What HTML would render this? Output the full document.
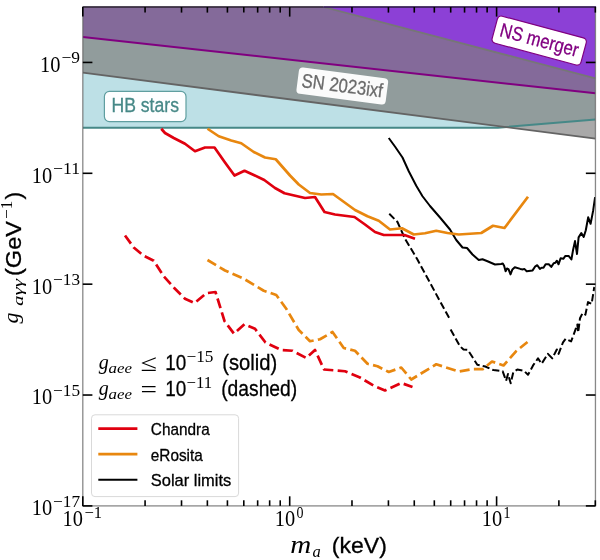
<!DOCTYPE html>
<html><head><meta charset="utf-8"><title>plot</title>
<style>html,body{margin:0;padding:0;background:#fff;}body{width:600px;height:560px;overflow:hidden;font-family:"Liberation Sans",sans-serif;}svg{display:block;will-change:transform;}</style>
</head><body>
<svg width="600" height="560" viewBox="0 0 600 560">
<rect width="600" height="560" fill="#fff"/>
<defs><clipPath id="cp"><rect x="82.80" y="7.00" width="512.65" height="498.90"/></clipPath></defs>
<g clip-path="url(#cp)">
<polygon fill="#bde0e6" points="82.80,72.70 505.30,127.10 498.00,127.70 82.80,127.80"/>
<polygon fill="#919c9c" points="82.80,37.10 595.45,93.30 595.45,119.50 505.30,127.10 82.80,72.70"/>
<polygon fill="#a9a9a9" points="505.30,127.10 595.45,119.50 595.45,138.70"/>
<polygon fill="#846a9a" points="82.80,7.00 323.50,7.00 595.45,78.40 595.45,93.30 82.80,37.10"/>
<polygon fill="#8c40d6" points="323.50,7.00 595.45,7.00 595.45,78.40"/>
<polyline fill="none" stroke="#468887" stroke-width="2.0" points="82.80,127.80 498.00,127.70 595.45,119.50"/>
<polyline fill="none" stroke="#646464" stroke-width="1.8" points="82.80,72.70 595.45,138.70"/>
<polyline fill="none" stroke="#800080" stroke-width="2.0" points="82.80,37.10 595.45,93.30"/>
<polyline fill="none" stroke="#767676" stroke-width="1.8" points="323.50,7.00 595.45,78.40"/>
<polyline fill="none" stroke="#000" stroke-width="2.0" stroke-linejoin="round" points="388.75,138.00 395.30,147.00 402.50,157.50 408.75,171.25 416.25,185.75 422.50,196.25 430.00,206.00 440.00,217.50 450.00,229.50 456.25,240.00 462.50,247.50 467.00,248.00 472.50,254.50 478.75,260.00 482.50,259.25 487.50,261.25 495.00,264.50 501.00,264.00 502.80,263.60 504.10,265.80 505.60,271.30 507.00,268.50 508.50,269.10 510.50,274.40 512.40,269.40 514.80,267.20 520.30,268.90 523.00,269.40 524.30,268.90 526.70,271.30 532.60,270.40 535.00,266.70 537.30,265.20 539.90,268.90 541.60,267.70 543.50,267.70 545.60,264.30 548.80,264.30 551.25,266.90 553.70,263.20 555.30,262.80 556.90,260.70 558.50,264.30 560.60,258.30 563.30,258.80 565.40,255.90 568.60,255.90 571.40,259.50 573.00,250.30 575.00,241.10 577.00,254.00 578.60,237.40 581.30,233.10 583.70,237.00 585.80,230.20 588.20,217.30 590.60,223.80 593.10,210.90 595.10,197.20"/>
<polyline fill="none" stroke="#000" stroke-width="2.0" stroke-linejoin="round" stroke-dasharray="7.2 3.1" points="389.25,213.75 397.50,222.00 405.00,238.75 417.00,258.75 438.75,298.90 450.00,319.40"/>
<polyline fill="none" stroke="#000" stroke-width="2.0" stroke-linejoin="round" stroke-dasharray="7.2 3.1" points="450.60,329.40 460.00,346.25 463.50,349.50 467.80,349.90 477.30,364.70 485.30,366.50 493.30,370.00 502.70,371.30 506.10,380.70 508.00,374.00 510.70,383.30 513.30,372.10 517.30,369.50 524.00,370.80 528.00,374.80 533.60,364.60 538.00,358.40 541.60,363.75 547.90,353.90 552.30,358.40 556.80,349.50 558.60,353.90 563.00,342.30 565.70,338.75 571.10,341.40 573.75,334.30 577.30,324.50 578.20,332.50 580.00,318.20 582.70,312.90 585.40,314.60 588.00,302.10 591.60,303.90 594.30,287.00"/>
<polyline fill="none" stroke="#e0000f" stroke-width="2.7" stroke-linejoin="round" points="161.25,128.75 165.00,133.00 173.75,138.00 185.00,143.75 195.00,151.25 205.00,147.50 214.50,147.50 225.00,162.50 234.50,175.50 244.50,170.75 253.75,175.00 264.25,180.00 275.00,188.00 284.50,193.25 305.00,198.00 315.00,197.00 324.50,212.00 335.00,214.50 354.50,217.00 365.00,224.50 375.00,232.00 383.75,235.00 404.50,235.00 415.00,238.75"/>
<polyline fill="none" stroke="#e0000f" stroke-width="2.7" stroke-linejoin="round" stroke-dasharray="10.1 4.37" points="125.00,235.50 133.75,247.50 143.75,255.75 153.75,260.75 163.75,276.25 175.00,288.75 185.00,298.75 194.50,303.00 206.25,293.25 215.50,292.00 224.50,321.00 234.00,333.75 244.50,324.25 255.00,328.75 265.50,342.50 281.25,350.00 292.50,350.75 306.25,358.00 315.00,350.00 324.00,369.50 345.00,371.25 360.00,377.50 373.75,385.75 385.00,390.50 401.25,383.00 412.50,387.00"/>
<polyline fill="none" stroke="#e8870f" stroke-width="2.7" stroke-linejoin="round" points="207.50,128.75 218.75,136.25 231.25,140.50 241.25,143.25 253.75,152.00 265.00,157.50 275.75,159.25 290.00,175.50 298.75,184.50 310.00,193.00 321.25,194.50 333.00,194.00 355.00,210.00 367.50,216.25 378.75,220.75 390.00,229.50 402.00,228.25 413.75,234.50 425.00,233.25 436.25,230.75 447.50,233.00 458.75,234.50 481.25,233.00 493.00,225.75 504.50,228.00 528.00,196.75"/>
<polyline fill="none" stroke="#e8870f" stroke-width="2.7" stroke-linejoin="round" stroke-dasharray="10 4.3" points="207.50,260.00 225.00,270.50 243.75,278.75 263.75,290.75 276.25,295.00 286.25,308.75 298.75,330.00 310.00,341.25 320.00,339.25 332.50,332.00 343.75,348.00 355.00,350.75 367.50,363.75 377.50,366.25 388.75,372.00 401.25,367.50 411.25,379.50 436.25,364.25 458.70,371.50 472.00,369.20 482.70,369.20 492.00,361.50 503.50,365.50 516.00,351.30 527.50,342.00"/>
</g>
<g transform="translate(145.20,106.50) rotate(0.00)">
<rect x="-40.80" y="-15.10" width="81.60" height="30.20" rx="5" ry="5" fill="#fff" fill-opacity="0.97" stroke="#5f9ea0" stroke-width="1.2"/>
<text x="-33.75" y="5.60" font-family="Liberation Sans, sans-serif" font-size="19.6" fill="#468887" stroke="#468887" stroke-width="0.3" textLength="67.5" lengthAdjust="spacingAndGlyphs">HB stars</text>
</g>
<g transform="translate(342.30,86.00) rotate(7.40)">
<rect x="-45.00" y="-13.25" width="90.00" height="26.50" rx="4" ry="4" fill="#fff" fill-opacity="0.96"/>
<text x="-40.75" y="6.20" font-family="Liberation Sans, sans-serif" font-size="19.6" fill="#6a6a6a" stroke="#6a6a6a" stroke-width="0.3" textLength="81.5" lengthAdjust="spacingAndGlyphs">SN 2023ixf</text>
</g>
<g transform="translate(539.20,40.60) rotate(15.00)">
<rect x="-46.00" y="-14.00" width="92.00" height="28.00" rx="4" ry="4" fill="#fff" fill-opacity="1" stroke="#800080" stroke-width="1.2"/>
<text x="-40.25" y="6.00" font-family="Liberation Sans, sans-serif" font-size="19.6" fill="#800080" stroke="#800080" stroke-width="0.3" textLength="80.5" lengthAdjust="spacingAndGlyphs">NS merger</text>
</g>
<rect x="91.5" y="414.8" width="147.1" height="81.8" rx="3.5" ry="3.5" fill="#fff" fill-opacity="0.8" stroke="#d9d9d9" stroke-width="1"/>
<line x1="98.3" x2="137.4" y1="428.70" y2="428.70" stroke="#e0000f" stroke-width="2.7"/>
<text x="150.8" y="435.10" font-family="Liberation Sans, sans-serif" font-size="16.6" fill="#000" stroke="#000" stroke-width="0.3" textLength="58.9" lengthAdjust="spacingAndGlyphs">Chandra</text>
<line x1="98.3" x2="137.4" y1="454.20" y2="454.20" stroke="#e8870f" stroke-width="2.7"/>
<text x="150.8" y="460.60" font-family="Liberation Sans, sans-serif" font-size="16.6" fill="#000" stroke="#000" stroke-width="0.3" textLength="52.0" lengthAdjust="spacingAndGlyphs">eRosita</text>
<line x1="98.3" x2="137.4" y1="479.70" y2="479.70" stroke="#000" stroke-width="2.0"/>
<text x="150.8" y="486.10" font-family="Liberation Sans, sans-serif" font-size="16.6" fill="#000" stroke="#000" stroke-width="0.3" textLength="80.5" lengthAdjust="spacingAndGlyphs">Solar limits</text>
<text x="98.80" y="368.50" font-family="Liberation Serif, serif" font-size="21.5" fill="#000" textLength="10" lengthAdjust="spacingAndGlyphs" font-style="italic">g</text>
<text x="108.60" y="372.70" font-family="Liberation Serif, serif" font-size="15.5" fill="#000" textLength="23.5" lengthAdjust="spacingAndGlyphs" font-style="italic">aee</text>
<text x="140.50" y="370.70" font-family="Liberation Serif, serif" font-size="24" fill="#000" textLength="16.5" lengthAdjust="spacingAndGlyphs">≤</text>
<text x="165.20" y="369.50" font-family="Liberation Sans, sans-serif" font-size="22.9" fill="#000" textLength="21" lengthAdjust="spacingAndGlyphs" stroke="#000" stroke-width="0.3">10</text>
<text x="186.50" y="361.50" font-family="Liberation Serif, serif" font-size="16.6" fill="#000" textLength="27" lengthAdjust="spacingAndGlyphs">−15</text>
<text x="222.30" y="369.50" font-family="Liberation Sans, sans-serif" font-size="22" fill="#000" textLength="55" lengthAdjust="spacingAndGlyphs" stroke="#000" stroke-width="0.3">(solid)</text>
<text x="98.80" y="394.50" font-family="Liberation Serif, serif" font-size="21.5" fill="#000" textLength="10" lengthAdjust="spacingAndGlyphs" font-style="italic">g</text>
<text x="108.60" y="398.70" font-family="Liberation Serif, serif" font-size="15.5" fill="#000" textLength="23.5" lengthAdjust="spacingAndGlyphs" font-style="italic">aee</text>
<text x="140.50" y="396.70" font-family="Liberation Serif, serif" font-size="24" fill="#000" textLength="16.5" lengthAdjust="spacingAndGlyphs">=</text>
<text x="165.20" y="395.50" font-family="Liberation Sans, sans-serif" font-size="22.9" fill="#000" textLength="21" lengthAdjust="spacingAndGlyphs" stroke="#000" stroke-width="0.3">10</text>
<text x="186.50" y="387.50" font-family="Liberation Serif, serif" font-size="16.6" fill="#000" textLength="25.5" lengthAdjust="spacingAndGlyphs">−11</text>
<text x="221.20" y="395.50" font-family="Liberation Sans, sans-serif" font-size="22" fill="#000" textLength="76" lengthAdjust="spacingAndGlyphs" stroke="#000" stroke-width="0.3">(dashed)</text>
<rect x="82.80" y="7.00" width="512.65" height="498.90" fill="none" stroke="#636363" stroke-opacity="0.76" stroke-width="1.3"/>
<line x1="82.80" x2="323.50" y1="7.00" y2="7.00" stroke="#30243a" stroke-width="1.3"/>
<line x1="323.50" x2="596.05" y1="7.00" y2="7.00" stroke="#311555" stroke-width="1.3"/>
<line x1="82.80" x2="82.80" y1="505.90" y2="496.30" stroke="#000" stroke-width="1.6"/>
<line x1="82.80" x2="82.80" y1="7.00" y2="16.60" stroke="#000" stroke-width="1.6"/>
<line x1="145.08" x2="145.08" y1="505.90" y2="500.30" stroke="#000" stroke-width="1.6"/>
<line x1="145.08" x2="145.08" y1="7.00" y2="12.60" stroke="#000" stroke-width="1.6"/>
<line x1="181.52" x2="181.52" y1="505.90" y2="500.30" stroke="#000" stroke-width="1.6"/>
<line x1="181.52" x2="181.52" y1="7.00" y2="12.60" stroke="#000" stroke-width="1.6"/>
<line x1="207.37" x2="207.37" y1="505.90" y2="500.30" stroke="#000" stroke-width="1.6"/>
<line x1="207.37" x2="207.37" y1="7.00" y2="12.60" stroke="#000" stroke-width="1.6"/>
<line x1="227.42" x2="227.42" y1="505.90" y2="500.30" stroke="#000" stroke-width="1.6"/>
<line x1="227.42" x2="227.42" y1="7.00" y2="12.60" stroke="#000" stroke-width="1.6"/>
<line x1="243.80" x2="243.80" y1="505.90" y2="500.30" stroke="#000" stroke-width="1.6"/>
<line x1="243.80" x2="243.80" y1="7.00" y2="12.60" stroke="#000" stroke-width="1.6"/>
<line x1="257.65" x2="257.65" y1="505.90" y2="500.30" stroke="#000" stroke-width="1.6"/>
<line x1="257.65" x2="257.65" y1="7.00" y2="12.60" stroke="#000" stroke-width="1.6"/>
<line x1="269.65" x2="269.65" y1="505.90" y2="500.30" stroke="#000" stroke-width="1.6"/>
<line x1="269.65" x2="269.65" y1="7.00" y2="12.60" stroke="#000" stroke-width="1.6"/>
<line x1="280.23" x2="280.23" y1="505.90" y2="500.30" stroke="#000" stroke-width="1.6"/>
<line x1="280.23" x2="280.23" y1="7.00" y2="12.60" stroke="#000" stroke-width="1.6"/>
<line x1="289.70" x2="289.70" y1="505.90" y2="496.30" stroke="#000" stroke-width="1.6"/>
<line x1="289.70" x2="289.70" y1="7.00" y2="16.60" stroke="#000" stroke-width="1.6"/>
<line x1="351.98" x2="351.98" y1="505.90" y2="500.30" stroke="#000" stroke-width="1.6"/>
<line x1="351.98" x2="351.98" y1="7.00" y2="12.60" stroke="#000" stroke-width="1.6"/>
<line x1="388.42" x2="388.42" y1="505.90" y2="500.30" stroke="#000" stroke-width="1.6"/>
<line x1="388.42" x2="388.42" y1="7.00" y2="12.60" stroke="#000" stroke-width="1.6"/>
<line x1="414.27" x2="414.27" y1="505.90" y2="500.30" stroke="#000" stroke-width="1.6"/>
<line x1="414.27" x2="414.27" y1="7.00" y2="12.60" stroke="#000" stroke-width="1.6"/>
<line x1="434.32" x2="434.32" y1="505.90" y2="500.30" stroke="#000" stroke-width="1.6"/>
<line x1="434.32" x2="434.32" y1="7.00" y2="12.60" stroke="#000" stroke-width="1.6"/>
<line x1="450.70" x2="450.70" y1="505.90" y2="500.30" stroke="#000" stroke-width="1.6"/>
<line x1="450.70" x2="450.70" y1="7.00" y2="12.60" stroke="#000" stroke-width="1.6"/>
<line x1="464.55" x2="464.55" y1="505.90" y2="500.30" stroke="#000" stroke-width="1.6"/>
<line x1="464.55" x2="464.55" y1="7.00" y2="12.60" stroke="#000" stroke-width="1.6"/>
<line x1="476.55" x2="476.55" y1="505.90" y2="500.30" stroke="#000" stroke-width="1.6"/>
<line x1="476.55" x2="476.55" y1="7.00" y2="12.60" stroke="#000" stroke-width="1.6"/>
<line x1="487.13" x2="487.13" y1="505.90" y2="500.30" stroke="#000" stroke-width="1.6"/>
<line x1="487.13" x2="487.13" y1="7.00" y2="12.60" stroke="#000" stroke-width="1.6"/>
<line x1="496.60" x2="496.60" y1="505.90" y2="496.30" stroke="#000" stroke-width="1.6"/>
<line x1="496.60" x2="496.60" y1="7.00" y2="16.60" stroke="#000" stroke-width="1.6"/>
<line x1="558.88" x2="558.88" y1="505.90" y2="500.30" stroke="#000" stroke-width="1.6"/>
<line x1="558.88" x2="558.88" y1="7.00" y2="12.60" stroke="#000" stroke-width="1.6"/>
<line x1="595.32" x2="595.32" y1="505.90" y2="500.30" stroke="#000" stroke-width="1.6"/>
<line x1="595.32" x2="595.32" y1="7.00" y2="12.60" stroke="#000" stroke-width="1.6"/>
<line x1="82.80" x2="92.40" y1="62.43" y2="62.43" stroke="#000" stroke-width="1.6"/>
<line x1="595.45" x2="585.85" y1="62.43" y2="62.43" stroke="#000" stroke-width="1.6"/>
<text x="61.50" y="63.23" font-family="Liberation Serif, serif" font-size="16.8" fill="#000" textLength="18.6" lengthAdjust="spacingAndGlyphs">−9</text>
<text x="40.10" y="71.83" font-family="Liberation Serif, serif" font-size="24" fill="#000" textLength="20.4" lengthAdjust="spacingAndGlyphs">10</text>
<line x1="82.80" x2="92.40" y1="173.30" y2="173.30" stroke="#000" stroke-width="1.6"/>
<line x1="595.45" x2="585.85" y1="173.30" y2="173.30" stroke="#000" stroke-width="1.6"/>
<text x="53.10" y="174.10" font-family="Liberation Serif, serif" font-size="16.8" fill="#000" textLength="27.0" lengthAdjust="spacingAndGlyphs">−11</text>
<text x="31.70" y="182.70" font-family="Liberation Serif, serif" font-size="24" fill="#000" textLength="20.4" lengthAdjust="spacingAndGlyphs">10</text>
<line x1="82.80" x2="92.40" y1="284.17" y2="284.17" stroke="#000" stroke-width="1.6"/>
<line x1="595.45" x2="585.85" y1="284.17" y2="284.17" stroke="#000" stroke-width="1.6"/>
<text x="53.10" y="284.97" font-family="Liberation Serif, serif" font-size="16.8" fill="#000" textLength="27.0" lengthAdjust="spacingAndGlyphs">−13</text>
<text x="31.70" y="293.57" font-family="Liberation Serif, serif" font-size="24" fill="#000" textLength="20.4" lengthAdjust="spacingAndGlyphs">10</text>
<line x1="82.80" x2="92.40" y1="395.03" y2="395.03" stroke="#000" stroke-width="1.6"/>
<line x1="595.45" x2="585.85" y1="395.03" y2="395.03" stroke="#000" stroke-width="1.6"/>
<text x="53.10" y="395.83" font-family="Liberation Serif, serif" font-size="16.8" fill="#000" textLength="27.0" lengthAdjust="spacingAndGlyphs">−15</text>
<text x="31.70" y="404.43" font-family="Liberation Serif, serif" font-size="24" fill="#000" textLength="20.4" lengthAdjust="spacingAndGlyphs">10</text>
<line x1="82.80" x2="92.40" y1="505.90" y2="505.90" stroke="#000" stroke-width="1.6"/>
<line x1="595.45" x2="585.85" y1="505.90" y2="505.90" stroke="#000" stroke-width="1.6"/>
<text x="53.10" y="506.70" font-family="Liberation Serif, serif" font-size="16.8" fill="#000" textLength="27.0" lengthAdjust="spacingAndGlyphs">−17</text>
<text x="31.70" y="515.30" font-family="Liberation Serif, serif" font-size="24" fill="#000" textLength="20.4" lengthAdjust="spacingAndGlyphs">10</text>
<text x="62.60" y="525.60" font-family="Liberation Serif, serif" font-size="24" fill="#000" textLength="20.4" lengthAdjust="spacingAndGlyphs">10</text>
<text x="84.40" y="518.00" font-family="Liberation Serif, serif" font-size="16.8" fill="#000" textLength="17.6" lengthAdjust="spacingAndGlyphs">−1</text>
<text x="274.80" y="525.60" font-family="Liberation Serif, serif" font-size="24" fill="#000" textLength="20.4" lengthAdjust="spacingAndGlyphs">10</text>
<text x="296.60" y="518.00" font-family="Liberation Serif, serif" font-size="16.8" fill="#000" textLength="7.0" lengthAdjust="spacingAndGlyphs">0</text>
<text x="481.70" y="525.60" font-family="Liberation Serif, serif" font-size="24" fill="#000" textLength="20.4" lengthAdjust="spacingAndGlyphs">10</text>
<text x="503.50" y="518.00" font-family="Liberation Serif, serif" font-size="16.8" fill="#000" textLength="7.0" lengthAdjust="spacingAndGlyphs">1</text>
<text x="290.30" y="552.50" font-family="Liberation Serif, serif" font-size="25.5" fill="#000" textLength="21" lengthAdjust="spacingAndGlyphs" font-style="italic">m</text>
<text x="312.50" y="556.60" font-family="Liberation Serif, serif" font-size="16.5" fill="#000" font-style="italic">a</text>
<text x="331.80" y="552.50" font-family="Liberation Sans, sans-serif" font-size="22.8" fill="#000" textLength="55" lengthAdjust="spacingAndGlyphs" stroke="#000" stroke-width="0.3">(keV)</text>
<g transform="translate(21.8,323.5) rotate(-90)">
<text x="0.00" y="-4.30" font-family="Liberation Serif, serif" font-size="21.5" fill="#000" textLength="11" lengthAdjust="spacingAndGlyphs" font-style="italic">g</text>
<text x="17.50" y="1.20" font-family="Liberation Serif, serif" font-size="15.5" fill="#000" textLength="27" lengthAdjust="spacingAndGlyphs" font-style="italic">aγγ</text>
<text x="47.50" y="-0.50" font-family="Liberation Sans, sans-serif" font-size="22.8" fill="#000" textLength="55" lengthAdjust="spacingAndGlyphs" stroke="#000" stroke-width="0.3">(GeV</text>
<text x="104.50" y="-9.80" font-family="Liberation Serif, serif" font-size="16.8" fill="#000" textLength="18.3" lengthAdjust="spacingAndGlyphs">−1</text>
<text x="124.00" y="-0.50" font-family="Liberation Sans, sans-serif" font-size="22.8" fill="#000" stroke="#000" stroke-width="0.3">)</text>
</g>
</svg>
</body></html>
